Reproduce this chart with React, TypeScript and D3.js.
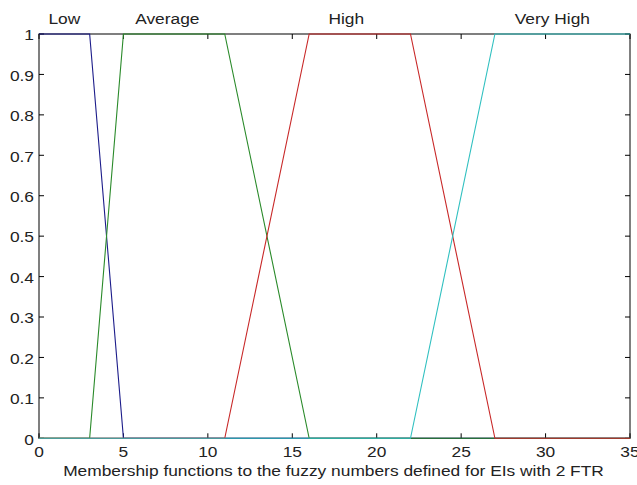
import React from "react";
import * as d3 from "d3";

const xTicks = [0, 5, 10, 15, 20, 25, 30, 35];
const yTicks = [0, 0.1, 0.2, 0.3, 0.4, 0.5, 0.6, 0.7, 0.8, 0.9, 1];

const lowX = [0, 3, 5, 35];
const lowY = [1, 1, 0, 0];
const averageX = [0, 3, 5, 11, 16, 35];
const averageY = [0, 0, 1, 1, 0, 0];
const highX = [0, 11, 16, 22, 27, 35];
const highY = [0, 0, 1, 1, 0, 0];
const veryHighX = [0, 22, 27, 35];
const veryHighY = [0, 0, 1, 1];

const mfNames = ["Low", "Average", "High", "Very High"];
const mfLabelX = [1.5, 7.6, 18.2, 30.4];
const xLabel = "Membership functions to the fuzzy numbers defined for EIs with 2 FTR";

const series = [
  { name: "Low", xs: lowX, ys: lowY, color: "#1c1c8a" },
  { name: "Average", xs: averageX, ys: averageY, color: "#2a8a2a" },
  { name: "High", xs: highX, ys: highY, color: "#c82828" },
  { name: "Very High", xs: veryHighX, ys: veryHighY, color: "#30c0c0" },
];

const SX = 1.12;

function T(props: { x: number; y: number; anchor: string; children: React.ReactNode }) {
  return (
    <text
      transform={`translate(${props.x},${props.y}) scale(${SX},1)`}
      textAnchor={props.anchor}
      fontSize={15.5}
      fill="#222"
    >
      {props.children}
    </text>
  );
}

export default function App() {
  const W = 637, H = 485;
  const left = 39, right = 630, top = 34, bottom = 438.3;
  const x = d3.scaleLinear().domain([0, 35]).range([left, right]);
  const y = d3.scaleLinear().domain([0, 1]).range([bottom, top]);
  const line = d3
    .line<[number, number]>()
    .x((d) => x(d[0]))
    .y((d) => y(d[1]));
  const font = "Arial, 'Liberation Sans', sans-serif";
  const tl = 5;
  return (
    <svg
      width={W}
      height={H}
      style={{ position: "absolute", left: 0, top: 0, background: "#fff" }}
      fontFamily={font}
    >
      <rect x={0} y={0} width={W} height={H} fill="#fff" />
      <rect x={left} y={top} width={right - left} height={bottom - top} fill="none" stroke="#000" strokeWidth={1} />
      {xTicks.map((t) => (
        <g key={"xt" + t}>
          <line x1={x(t)} x2={x(t)} y1={bottom} y2={bottom - tl} stroke="#000" />
          <line x1={x(t)} x2={x(t)} y1={top} y2={top + tl} stroke="#000" />
          <T x={x(t)} y={456.5} anchor="middle">
            {t}
          </T>
        </g>
      ))}
      {yTicks.map((t) => (
        <g key={"yt" + t}>
          <line x1={left} x2={left + tl} y1={y(t)} y2={y(t)} stroke="#000" />
          <line x1={right} x2={right - tl} y1={y(t)} y2={y(t)} stroke="#000" />
          <T x={left - 5} y={y(t) + 6.3} anchor="end">
            {d3.format("~g")(+t.toFixed(1))}
          </T>
        </g>
      ))}
      {series.map((s) => (
        <path
          key={s.name}
          d={line(s.xs.map((v, i) => [v, s.ys[i]] as [number, number])) || ""}
          fill="none"
          stroke={s.color}
          strokeWidth={1.1}
        />
      ))}
      {mfNames.map((n, i) => (
        <T key={n} x={x(mfLabelX[i])} y={23.5} anchor="middle">
          {n}
        </T>
      ))}
      <T x={(left + right) / 2 - 1} y={476} anchor="middle">
        {xLabel}
      </T>
    </svg>
  );
}
